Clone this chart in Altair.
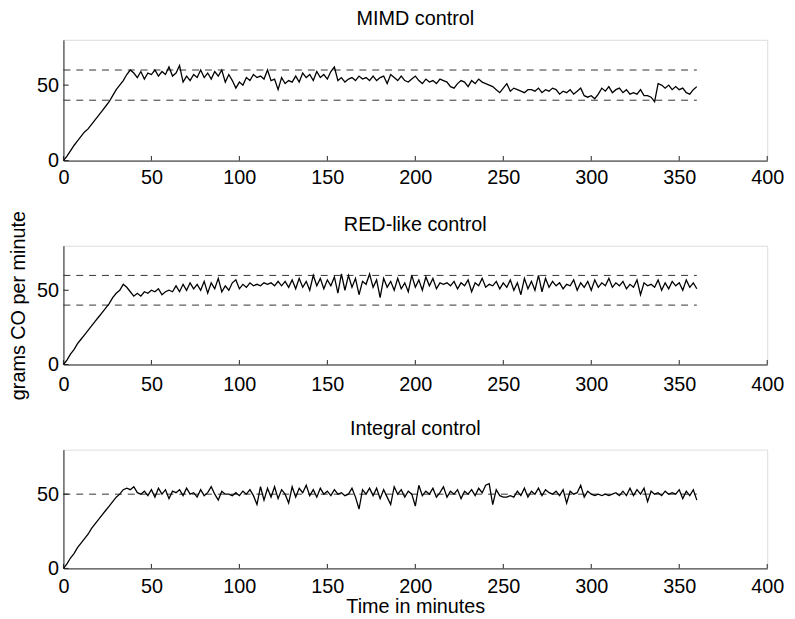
import altair as alt
import pandas as pd

MINUTE_STEP = 2  # one reading every 2 minutes, t = 0 .. 360

MIMD = [
    0, 3, 6.5, 10, 13, 16, 19, 21, 24, 27, 30, 33, 36, 39, 43, 47, 50, 53, 57,
    60, 58, 55, 59, 54, 58, 57, 60, 56, 59, 57, 62, 56, 58, 63, 52, 56, 53, 57, 55,
    60, 55, 58, 54, 59, 56, 60, 52, 57, 53, 48, 52, 50, 55, 53, 57, 55, 56, 54, 60,
    53, 54, 47, 55, 51, 53, 52, 56, 52, 58, 55, 57, 53, 59, 55, 57, 54, 59, 62, 53,
    55, 52, 54, 55, 53, 56, 54, 55, 53, 56, 53, 55,
    56, 51, 57, 55, 53, 56, 53, 52, 54, 56,
    53, 51, 54, 52, 53, 51, 54, 53, 52, 49,
    48, 51, 53, 52, 49, 53, 51, 54, 52, 51,
    50, 49, 47, 45, 48, 51, 46, 48, 47, 46,
    45, 47, 47, 46, 48, 45, 47, 46, 48, 47,
    44, 46, 45, 47, 44, 46, 48, 43, 42, 43,
    41, 44, 48, 46, 49, 45, 47, 48, 45, 47,
    44, 45, 44, 47, 43, 43, 42, 39, 51, 50,
    48, 50, 47, 49, 47, 48, 45, 44, 47, 49,
]

RED = [
    0, 3, 7, 10, 14, 17, 20, 23, 26, 29, 32, 35, 38, 41, 45, 48, 50, 54,
    52, 49, 46, 48, 46, 49, 48, 50, 49, 51, 47, 49, 50, 49, 53, 49, 54, 50, 55, 51,
    54, 50, 56, 48, 55, 51, 58, 49, 53, 50, 55, 57, 51, 54, 52, 55, 53, 54, 53, 55,
    54, 55, 53, 56, 53, 56, 52, 57, 51, 58, 52, 56, 50, 60, 53, 58, 51, 57, 53, 59,
    48, 61, 50, 60, 52, 58, 47, 56, 54, 61, 52, 57,
    45, 58, 52, 56, 50, 58, 51, 55, 49, 60,
    52, 57, 50, 59, 53, 58, 51, 55, 54, 55,
    53, 56, 51, 55, 53, 57, 49, 55, 53, 58,
    52, 54, 53, 56, 51, 55, 52, 57, 50, 55,
    47, 58, 51, 56, 50, 60, 49, 58, 52, 56,
    53, 55, 51, 54, 53, 57, 50, 55, 52, 56,
    50, 57, 52, 55, 53, 58, 52, 55, 53, 56,
    51, 54, 52, 57, 47, 55, 53, 54, 52, 57,
    50, 55, 51, 56, 53, 55, 50, 57, 52, 55,
    51,
]

INTEGRAL = [
    0, 3, 7, 10, 14, 17, 20, 23, 27, 30, 33, 36, 39, 42, 45, 48, 50, 53, 54, 53, 55, 51,
    50, 52, 49, 53, 48, 54, 50, 53, 47, 52,
    51, 53, 49, 54, 50, 51, 48, 53, 49, 51,
    55, 50, 46, 52, 50, 50, 49, 51, 49, 52,
    50, 53, 49, 43, 55, 46, 54, 48, 55, 47,
    53, 50, 44, 55, 48, 54, 51, 56, 49, 53,
    48, 54, 50, 52, 49, 53, 50, 51, 49, 50,
    54, 48, 40, 53, 50, 54, 49, 54, 47,
    53, 48, 43, 55, 50, 53, 48, 52, 50, 42,
    56, 49, 52, 50, 54, 48, 51, 55, 48, 52,
    50, 53, 47, 52, 50, 53, 49, 54, 51, 56,
    57, 43, 53, 49, 48, 48, 49, 48, 52, 49,
    54, 48, 52, 50, 54, 49, 53, 51, 50, 52,
    49, 53, 44, 52, 50, 51, 56, 48, 52, 50,
    49, 50, 49, 50, 49, 50, 51, 49, 52, 49,
    54, 49, 53, 50, 54, 45, 52, 50, 51, 49,
    52, 50, 51, 50, 53, 47, 52, 49, 53, 46,
]

TITLES = ["MIMD control", "RED-like control", "Integral control"]
LIMITS = [[40, 60], [40, 60], [50]]
LIMIT_START, LIMIT_END = 0, 360
X_TICKS = [0, 50, 100, 150, 200, 250, 300, 350, 400]
Y_TICKS = [0, 50]
X_DOMAIN = [0, 400]
Y_DOMAIN = [0, 80]
Y_TITLE = "grams CO per minute"
X_TITLE = "Time in minutes"

for s in (MIMD, RED, INTEGRAL):
    assert len(s) == 181, len(s)

FONT = "Liberation Sans"
FS = 20
AX = "#222222"


def panel(values, title, limits, height, ytitle, xtitle, xlabpad):
    df = pd.DataFrame({"t": [i * MINUTE_STEP for i in range(len(values))], "v": values})
    xs = alt.Scale(domain=X_DOMAIN, nice=False, zero=False)
    ys = alt.Scale(domain=Y_DOMAIN, nice=False)
    xaxis = alt.Axis(values=X_TICKS, ticks=False, tickSize=0, grid=False, labelFlush=False,
                     labelPadding=xlabpad, labelFont=FONT, labelFontSize=FS, labelColor="black",
                     domainColor=AX, domainWidth=1, title=xtitle, titleFont=FONT,
                     titleFontSize=FS, titleFontWeight="normal", titleColor="black",
                     titleBaseline="alphabetic", titleY=45)
    yaxis = alt.Axis(values=Y_TICKS, ticks=False, tickSize=0, grid=False, labelPadding=5,
                     labelFont=FONT, labelFontSize=FS, labelColor="black",
                     domainColor=AX, domainWidth=1, title=ytitle, titleFont=FONT,
                     titleFontSize=FS, titleFontWeight="normal", titleColor="black",
                     titleBaseline="alphabetic", titleX=-39, titleY=height / 2,
                     titleAngle=270)

    def X(f):
        return alt.X(f, scale=xs, axis=xaxis)

    def Y(f):
        return alt.Y(f, scale=ys, axis=yaxis)

    line = alt.Chart(df).mark_line(color="black", strokeWidth=1.3).encode(x=X("t:Q"), y=Y("v:Q"))

    lim_df = pd.DataFrame({"level": limits, "start": LIMIT_START, "end": LIMIT_END})
    lim = alt.Chart(lim_df).mark_rule(color="#333333", strokeWidth=1, strokeDash=[7, 6]).encode(
        x=X("start:Q"), x2="end:Q", y=Y("level:Q"))

    xt_df = pd.DataFrame({"tick": X_TICKS, "base": 0, "top": 3})
    xt = alt.Chart(xt_df).mark_rule(color=AX, strokeWidth=1).encode(
        x=X("tick:Q"), y=Y("base:Q"), y2="top:Q")

    yt_df = pd.DataFrame({"tick": Y_TICKS, "base": 0, "right": 3})
    yt = alt.Chart(yt_df).mark_rule(color=AX, strokeWidth=1).encode(
        x=X("base:Q"), x2="right:Q", y=Y("tick:Q"))

    tt_df = pd.DataFrame({"cx": [sum(X_DOMAIN) / 2], "top": [Y_DOMAIN[1]], "label": [title]})
    tt = alt.Chart(tt_df).mark_text(font=FONT, fontSize=FS, color="black", align="center",
                                    baseline="alphabetic", dy=-15).encode(
        x=X("cx:Q"), y=Y("top:Q"), text="label:N")

    return alt.layer(lim, line, xt, yt, tt).properties(width=711, height=height)


p1 = panel(MIMD, TITLES[0], LIMITS[0], 122, "", "", 7)
p2 = panel(RED, TITLES[1], LIMITS[1], 120, Y_TITLE, "", 10)
p3 = panel(INTEGRAL, TITLES[2], LIMITS[2], 120, "", X_TITLE, 8)

chart = alt.vconcat(p1, p2, p3, spacing=86, bounds="flush").properties(
    padding={"left": 0, "top": -3, "right": 2, "bottom": 2}
).configure_view(stroke=None).configure(background="white")

chart.save("out.html", embed_options={"renderer": "svg", "actions": False})
